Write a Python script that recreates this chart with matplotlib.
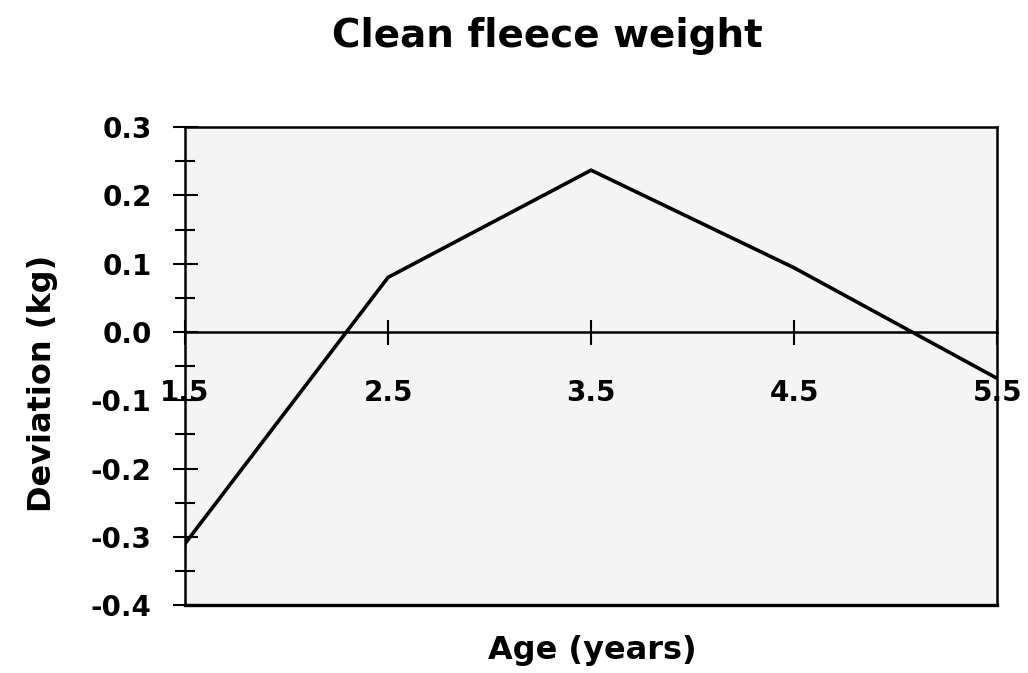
import matplotlib
matplotlib.use("Agg")
import matplotlib.pyplot as plt
from matplotlib.ticker import MultipleLocator

# Data
age = [1.5, 2.5, 3.5, 4.5, 5.5]
deviation = [-0.31, 0.08, 0.237, 0.094, -0.068]
xticks = [1.5, 2.5, 3.5, 4.5, 5.5]
yticks = [-0.4, -0.3, -0.2, -0.1, 0.0, 0.1, 0.2, 0.3]

plt.rcParams["font.family"] = ["DejaVu Sans"]
plt.rcParams["font.weight"] = "bold"

fig = plt.figure(figsize=(10.28, 6.73), dpi=100)
ax = fig.add_axes([0.18, 0.101, 0.79, 0.71])
ax.set_facecolor("#f4f4f4")

ax.plot(age, deviation, color="black", linewidth=2.6, solid_joinstyle="miter", zorder=3)

ax.set_xlim(1.5, 5.5)
ax.set_ylim(-0.4, 0.3)

# x axis crosses at zero, box kept around the plot
ax.spines["bottom"].set_position(("data", 0))
for s in ax.spines.values():
    s.set_linewidth(1.8)
ax.axhline(-0.4, color="black", linewidth=2.4, clip_on=False, zorder=4)

ax.set_xticks(xticks)
ax.set_xticklabels([f"{v:.1f}" for v in xticks])
ax.set_yticks(yticks)
ax.set_yticklabels([f"{v:.1f}" for v in yticks])
ax.yaxis.set_minor_locator(MultipleLocator(0.05))

ax.tick_params(axis="x", direction="inout", length=18, width=1.5, pad=25,
               labelsize=20)
ax.tick_params(axis="y", which="major", direction="inout", length=18, width=1.5,
               pad=15, labelsize=20)
ax.tick_params(axis="y", which="minor", direction="inout", length=15, width=1.5)

fig.text(0.532, 0.930, "Clean fleece weight", ha="center", va="baseline",
         fontsize=28, fontweight="bold")
fig.text(0.041, 0.431, "Deviation (kg)", ha="center", va="center", rotation=90,
         fontsize=23, fontweight="bold")
fig.text(0.576, 0.021, "Age (years)", ha="center", va="baseline",
         fontsize=23, fontweight="bold")

plt.savefig("out.png", dpi=100)
